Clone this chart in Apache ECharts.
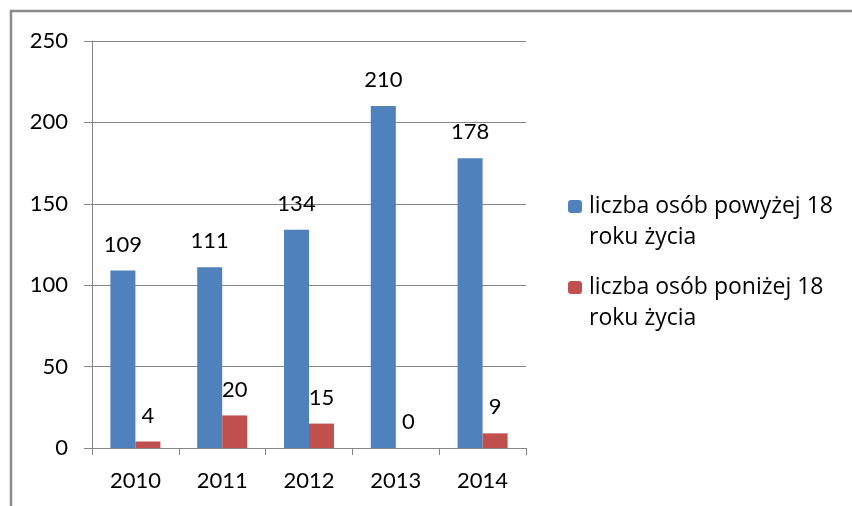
<!DOCTYPE html>
<html>
<head>
<meta charset="utf-8">
<script src="https://cdn.jsdelivr.net/npm/echarts@6/dist/echarts.min.js"></script>
<style>
  html, body { margin: 0; padding: 0; background: #fff; }
  #chart { width: 852px; height: 506px; }
</style>
</head>
<body>
<div id="chart"></div>
<script>
const years = ["2010", "2011", "2012", "2013", "2014"];
const adults = [109, 111, 134, 210, 178];
const minors = [4, 20, 15, 0, 9];
const seriesNames = ["liczba osób powyżej 18 roku życia", "liczba osób poniżej 18 roku życia"];
const legendLines = {
  "liczba osób powyżej 18 roku życia": "liczba osób powyżej 18\nroku życia",
  "liczba osób poniżej 18 roku życia": "liczba osób poniżej 18\nroku życia",
};

const font = "Lato";
const axisGray = "#868686";

const chart = echarts.init(document.getElementById("chart"));

// legend text is offset by an empty first line so the square sits beside line one
const makeLegend = (name, top) => ({
  data: [name],
  orient: "vertical",
  left: 568,
  top: top,
  padding: 0,
  itemWidth: 14,
  itemHeight: 13,
  itemGap: 0,
  selectedMode: false,
  formatter: (n) => "\n" + legendLines[n],
  textStyle: {
    fontFamily: "Open Sans",
    fontSize: 23,
    lineHeight: 31,
    color: "#000",
    padding: [0, 0, 0, 2],
  },
});

chart.setOption({
  animation: false,
  graphic: [
    {
      type: "rect",
      shape: { x: 11, y: 11, width: 900, height: 600 },
      style: { fill: "none", stroke: "#8c8c8c", lineWidth: 2.5 },
      silent: true,
    },
  ],
  legend: [makeLegend(seriesNames[0], 160), makeLegend(seriesNames[1], 241)],
  grid: {
    left: 92,
    top: 41,
    right: 326,
    bottom: 58,
  },
  xAxis: {
    type: "category",
    data: years,
    axisLine: { lineStyle: { color: axisGray, width: 1 } },
    axisTick: { show: true, length: 7, lineStyle: { color: axisGray } },
    axisLabel: {
      color: "#000",
      fontFamily: font,
      fontSize: 22,
      margin: 22,
    },
  },
  yAxis: {
    type: "value",
    min: 0,
    max: 250,
    interval: 50,
    axisLine: { show: true, lineStyle: { color: axisGray, width: 1 } },
    axisTick: { show: true, length: 8, lineStyle: { color: axisGray } },
    splitLine: { lineStyle: { color: axisGray, width: 1 } },
    axisLabel: {
      color: "#000",
      fontFamily: font,
      fontSize: 22,
      margin: 24,
    },
  },
  series: [
    {
      name: seriesNames[0],
      type: "bar",
      data: adults,
      barWidth: 25,
      barGap: "0%",
      itemStyle: { color: "#4f81bd" },
      label: {
        show: true,
        position: "top",
        distance: 15,
        color: "#000",
        fontFamily: font,
        fontSize: 22,
      },
    },
    {
      name: seriesNames[1],
      type: "bar",
      data: minors,
      barWidth: 25,
      barGap: "0%",
      itemStyle: { color: "#c0504d" },
      label: {
        show: true,
        position: "top",
        distance: 15,
        color: "#000",
        fontFamily: font,
        fontSize: 22,
      },
    },
  ],
});
</script>
</body>
</html>
